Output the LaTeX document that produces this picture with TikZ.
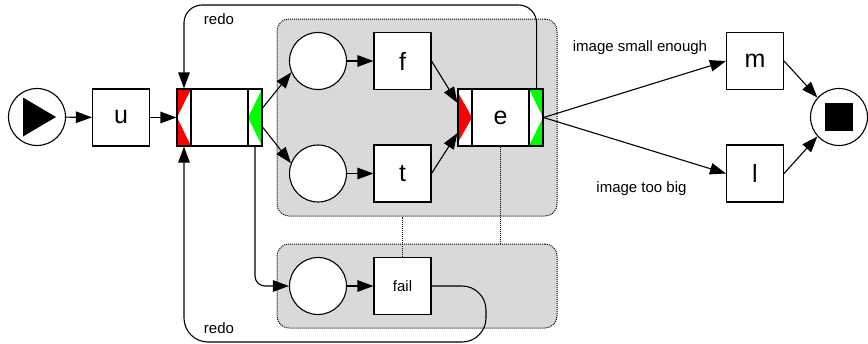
\documentclass[tikz,border=0pt]{standalone}
\usepackage{fontspec}
\setmainfont{Liberation Sans}
\usetikzlibrary{arrows.meta,calc}
\definecolor{groupgray}{RGB}{217,217,217}
\definecolor{joinred}{RGB}{255,0,0}
\definecolor{splitgreen}{RGB}{0,255,0}
\begin{document}
\begin{tikzpicture}[x=1pt,y={(0pt,-1pt)},
  base/.style={line width=1.1pt},
  place/.style={base,draw,fill=white,circle,minimum size=57pt,inner sep=0pt},
  task/.style={base,draw,fill=white,rectangle,minimum width=57pt,minimum height=57pt,inner sep=0pt,font=\fontsize{25}{25}\selectfont},
  smalltask/.style={task,font=\fontsize{15}{15}\selectfont},
  trans/.style={base,draw,fill=white,rectangle,minimum width=85pt,minimum height=57pt,inner sep=0pt,font=\fontsize{25}{25}\selectfont},
  group/.style={line width=1pt,densely dotted,draw,fill=groupgray,rounded corners=12pt,inner sep=0pt},
  flow/.style={base,-{Triangle[length=16pt,width=11.5pt]}},
  link/.style={line width=1pt,densely dotted},
  lbl/.style={font=\fontsize{15}{15}\selectfont,inner sep=0pt,anchor=base}]
\useasboundingbox (0,0) rectangle (868,343);

% subnet groups
\node[group,minimum width=280pt,minimum height=197pt] (g1) at (417,117.5) {};
\node[group,minimum width=280pt,minimum height=84pt] (g2) at (417,286) {};

% start and end conditions
\node[place] (start) at (37,117) {};
\fill ($(start.center)+(-14,-19.5)$) -- ($(start.center)+(19,0)$) -- ($(start.center)+(-14,19.5)$) -- cycle;
\node[place] (end) at (839,117) {};
\fill ($(end.center)+(-14,-14)$) rectangle ($(end.center)+(14,14)$);

% tasks and conditions
\node[task] (u) at (121,117.5) {u};
\node[trans] (j) at (219.5,117.5) {};
\node[place] (c1) at (318,61) {};
\node[task] (f) at (402.5,61) {f};
\node[place] (c2) at (318,173.5) {};
\node[task] (t) at (402.5,173.5) {t};
\node[trans] (e) at (500.5,117.5) {e};
\node[place] (c3) at (318,286) {};
\node[smalltask] (fail) at (402.5,286) {fail};
\node[task] (m) at (755,61) {m};
\node[task] (l) at (755,173.5) {l};

% join and split decorators of the composite task
\begin{scope}[shift={(j.center)}]
  \fill[joinred] (-42.5,-28.5) -- (-28.5,-28.5) -- (-42.5,0) -- cycle;
  \fill[joinred] (-42.5,28.5) -- (-28.5,28.5) -- (-42.5,0) -- cycle;
  \fill[splitgreen] (28.5,0) -- (42.5,-28.5) -- (42.5,28.5) -- cycle;
  \draw[base] (-28.5,-28.5) -- (-28.5,28.5) (28.5,-28.5) -- (28.5,28.5);
  \draw[base] (-42.5,-28.5) rectangle (42.5,28.5);
\end{scope}
% join and split decorators of task e
\begin{scope}[shift={(e.center)}]
  \fill[joinred] (-42.5,-25) -- (-28.5,0) -- (-42.5,25) -- cycle;
  \fill[splitgreen] (28.5,-28.5) -- (42.5,-28.5) -- (42.5,0) -- cycle;
  \fill[splitgreen] (28.5,28.5) -- (42.5,28.5) -- (42.5,0) -- cycle;
  \draw[base] (-28.5,-28.5) -- (-28.5,28.5) (28.5,-28.5) -- (28.5,28.5);
  \draw[base] (-42.5,-28.5) rectangle (42.5,28.5);
\end{scope}

% ordinary flows
\draw[flow] (start) -- (u);
\draw[flow] (u) -- (j.west);
\draw[flow] ([yshift=9.5pt]j.east) -- (c1.203);
\draw[flow] ([yshift=-9.5pt]j.east) -- (c2.159);
\draw[flow] (c1) -- (f);
\draw[flow] (c2) -- (t);
\draw[flow] (f.east) -- ([yshift=14.5pt]e.west);
\draw[flow] (t.east) -- ([yshift=-15.5pt]e.west);
\draw[flow] (e.east) -- (m.west);
\draw[flow] (e.east) -- (l.west);
\draw[flow] (m.east) -- (end.138);
\draw[flow] (l.east) -- (end.222);
\draw[flow] (c3) -- (fail);

% flow from the split into the failure branch
\coordinate (jsplit) at ([xshift=35.5pt]j.south);
\draw[flow,rounded corners=10pt] (jsplit) |- (c3.west);

% redo loops back into the join
\coordinate (etop) at ([xshift=-7pt]e.north east);
\coordinate (jtop) at ([xshift=-35.5pt]j.north);
\coordinate (jbot) at ([xshift=-35.5pt]j.south);
\coordinate (topline) at (0,5);
\coordinate (botline) at (486,342);
\draw[flow,rounded corners=18pt] (etop) -- (etop |- topline) -- (jtop |- topline) -- (jtop);
\draw[flow,rounded corners=24pt] (fail.east) -- (botline |- fail.east) -- (botline) -- (jbot |- botline) -- (jbot);

% links between the subnets
\draw[link] (fail.north) -- (fail.north |- g1.south);
\draw[link] (e.south) -- (e.south |- g2.north);

% labels
\node[lbl] (redo1) at (219,24) {redo};
\node[lbl] (redo2) at (219,333) {redo};
\node[lbl] (small) at (640,51) {image small enough};
\node[lbl] (big) at (641.5,192.5) {image too big};
\end{tikzpicture}
\end{document}
